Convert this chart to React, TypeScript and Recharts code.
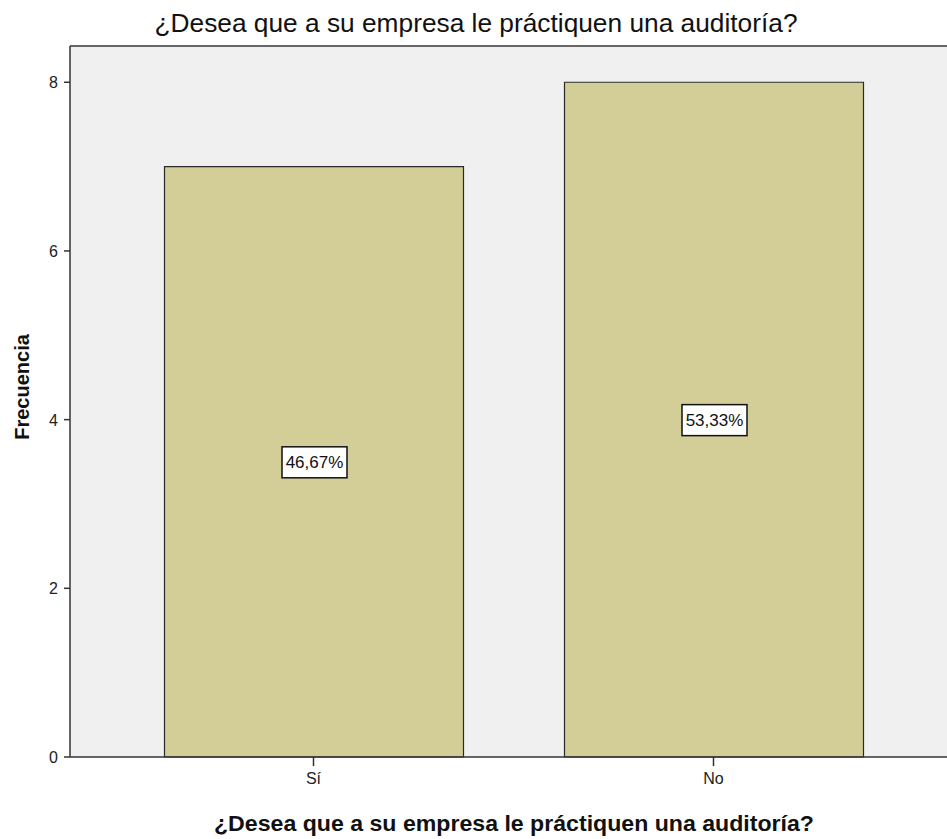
import React from 'react';
import { BarChart, Bar, XAxis, YAxis, CartesianGrid, LabelList, Label, ReferenceLine } from 'recharts';

const categories = ['Sí', 'No'];
const frequencies = [7, 8];
const yTicks = [0, 2, 4, 6, 8];

const title = '¿Desea que a su empresa le práctiquen una auditoría?';
const yTitle = 'Frecuencia';

const total = frequencies.reduce((a, b) => a + b, 0);
const data = categories.map((name, i) => ({ name, value: frequencies[i] }));

const font = '"Liberation Sans", Arial, sans-serif';
const yMax = 8.43;

const PercentBox = (props: any) => {
  const { x, y, width, height, value } = props;
  const cx = x + width / 2;
  const cy = y + height / 2;
  const text = ((value / total) * 100).toFixed(2).replace('.', ',') + '%';
  return (
    <g>
      <rect x={cx - 32} y={cy - 15} width={65} height={31} fill="#fff" stroke="#111" strokeWidth={1.5} />
      <text x={cx + 0.5} y={cy + 6} textAnchor="middle" fontFamily={font} fontSize={17} fill="#111">
        {text}
      </text>
    </g>
  );
};

const XTick = (props: any) => {
  const { x, y, payload } = props;
  return (
    <text x={x} y={y + 12} textAnchor="middle" fontFamily={font} fontSize={16} fill="#222">
      {payload.value}
    </text>
  );
};

const YTick = (props: any) => {
  const { x, y, payload } = props;
  return (
    <text x={x} y={y + 6} textAnchor="end" fontFamily={font} fontSize={16} fill="#222">
      {payload.value}
    </text>
  );
};

const App: React.FC = () => {
  return (
    <div style={{ position: 'absolute', left: 0, top: 0, width: 947, height: 839, background: '#fff' }}>
      <BarChart width={947} height={839} data={data} margin={{ top: 46, right: 0, left: 0, bottom: 0 }}>
        <CartesianGrid fill="#f0f0f0" horizontal={false} vertical={false} />
        <ReferenceLine y={yMax} stroke="#666" strokeWidth={2} ifOverflow="extendDomain" />
        <XAxis
          dataKey="name"
          height={82}
          padding={{ left: 43.5, right: 33.5 }}
          tickSize={9}
          tickMargin={6}
          stroke="#333"
          strokeWidth={1.5}
          tick={<XTick />}
        >
          <Label
            content={() => (
              <text
                x={514}
                y={831}
                textAnchor="middle"
                fontFamily={font}
                fontWeight="bold"
                fontSize={22}
                textLength={600}
                lengthAdjust="spacingAndGlyphs"
                fill="#111"
              >
                {title}
              </text>
            )}
          />
        </XAxis>
        <YAxis
          width={70}
          domain={[0, yMax]}
          ticks={yTicks}
          tickSize={6}
          tickMargin={6}
          stroke="#333"
          strokeWidth={1.5}
          tick={<YTick />}
        >
          <Label
            content={() => (
              <text
                x={29}
                y={387}
                transform="rotate(-90 29 387)"
                textAnchor="middle"
                fontFamily={font}
                fontWeight="bold"
                fontSize={20}
                fill="#111"
              >
                {yTitle}
              </text>
            )}
          />
          <Label
            content={() => (
              <text
                x={476}
                y={32}
                textAnchor="middle"
                fontFamily={font}
                fontSize={25}
                textLength={643}
                lengthAdjust="spacingAndGlyphs"
                fill="#111"
              >
                {title}
              </text>
            )}
          />
        </YAxis>
        <Bar dataKey="value" barSize={299} fill="#d3cd97" stroke="#2b2b2b" strokeWidth={1.2} isAnimationActive={false}>
          <LabelList dataKey="value" content={<PercentBox />} />
        </Bar>
      </BarChart>
    </div>
  );
};

export default App;
